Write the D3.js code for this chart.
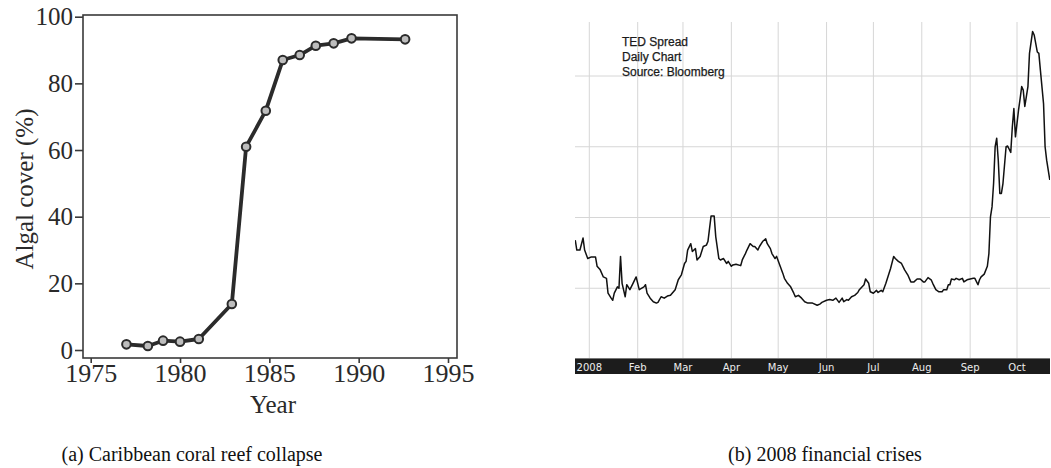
<!DOCTYPE html>
<html><head><meta charset="utf-8">
<script src="https://cdn.jsdelivr.net/npm/d3@7/dist/d3.min.js"></script>
<style>body{margin:0;background:#fff}svg{display:block}</style>
</head><body>
<svg id="c" width="1051" height="468"></svg>
<script>
// ---- (a) coral reef data ----
const reefYears = [1977.0, 1978.2, 1979.05, 1980.0, 1981.05, 1982.9, 1983.7, 1984.8, 1985.75, 1986.7, 1987.6, 1988.6, 1989.6, 1992.6];
const reefCover = [1.7, 1.2, 2.8, 2.5, 3.3, 13.8, 61.0, 71.8, 87.0, 88.5, 91.3, 92.0, 93.5, 93.2];
const reefXTicks = [1975, 1980, 1985, 1990, 1995];
const reefYTicks = [0, 20, 40, 60, 80, 100];

// ---- (b) TED spread data ----
const tedDates = [
"2007-12-23","2007-12-24","2007-12-26","2007-12-28","2007-12-29","2007-12-31",
"2008-01-02","2008-01-05","2008-01-06","2008-01-08","2008-01-10","2008-01-12","2008-01-13","2008-01-15","2008-01-16","2008-01-17","2008-01-19","2008-01-20","2008-01-21","2008-01-22","2008-01-24","2008-01-25","2008-01-27","2008-01-29","2008-01-31",
"2008-02-02","2008-02-05","2008-02-06","2008-02-07","2008-02-09","2008-02-11","2008-02-13","2008-02-14","2008-02-16","2008-02-18","2008-02-20","2008-02-22","2008-02-25","2008-02-27","2008-02-29",
"2008-03-02","2008-03-03","2008-03-04","2008-03-06","2008-03-07","2008-03-09","2008-03-10","2008-03-12","2008-03-14","2008-03-16","2008-03-17","2008-03-19","2008-03-21","2008-03-22","2008-03-24","2008-03-25","2008-03-27","2008-03-29","2008-03-30",
"2008-04-01","2008-04-02","2008-04-04","2008-04-07","2008-04-08","2008-04-10","2008-04-11","2008-04-13","2008-04-15","2008-04-16","2008-04-18","2008-04-19","2008-04-21","2008-04-23","2008-04-24","2008-04-26","2008-04-27","2008-04-29","2008-04-30",
"2008-05-02","2008-05-04","2008-05-05","2008-05-07","2008-05-09","2008-05-11","2008-05-12","2008-05-14","2008-05-16","2008-05-18","2008-05-20","2008-05-23","2008-05-26","2008-05-28","2008-05-29",
"2008-06-01","2008-06-03","2008-06-05","2008-06-07","2008-06-09","2008-06-11","2008-06-12","2008-06-14","2008-06-15","2008-06-17","2008-06-19","2008-06-21","2008-06-22","2008-06-25","2008-06-26","2008-06-28","2008-06-29",
"2008-07-01","2008-07-03","2008-07-04","2008-07-06","2008-07-07","2008-07-09","2008-07-12","2008-07-14","2008-07-15","2008-07-17","2008-07-19","2008-07-21","2008-07-23","2008-07-25","2008-07-27","2008-07-29","2008-07-31",
"2008-08-02","2008-08-03","2008-08-05","2008-08-07","2008-08-08","2008-08-10","2008-08-12","2008-08-14","2008-08-15","2008-08-17","2008-08-18","2008-08-19","2008-08-20","2008-08-22","2008-08-23","2008-08-25","2008-08-27","2008-08-28","2008-08-30",
"2008-09-01","2008-09-03","2008-09-04","2008-09-06","2008-09-07","2008-09-08","2008-09-10","2008-09-12","2008-09-13","2008-09-14","2008-09-15","2008-09-16","2008-09-17","2008-09-18","2008-09-19","2008-09-20","2008-09-21","2008-09-22","2008-09-24","2008-09-25","2008-09-27","2008-09-28","2008-09-29","2008-09-30",
"2008-10-01","2008-10-02","2008-10-03","2008-10-04","2008-10-05","2008-10-06","2008-10-08","2008-10-09","2008-10-11","2008-10-12","2008-10-14","2008-10-15","2008-10-16","2008-10-18","2008-10-19","2008-10-20","2008-10-22"];
const tedValues = [
1.68,1.54,1.54,1.71,1.54,1.42,
1.44,1.44,1.31,1.26,1.16,1.14,0.93,0.86,0.83,0.93,1.02,1.00,1.45,1.07,0.88,1.05,0.98,1.07,1.16,
0.98,1.02,1.05,0.93,0.86,0.81,0.79,0.80,0.88,0.86,0.89,0.90,0.98,1.12,1.19,
1.35,1.38,1.54,1.63,1.52,1.56,1.40,1.45,1.59,1.61,1.66,2.02,2.02,1.73,1.42,1.40,1.42,1.35,1.38,
1.31,1.33,1.34,1.32,1.40,1.49,1.54,1.63,1.59,1.59,1.54,1.59,1.66,1.70,1.63,1.56,1.49,1.42,1.45,
1.33,1.21,1.14,1.07,1.02,0.93,0.88,0.90,0.86,0.81,0.79,0.79,0.76,0.78,0.80,
0.83,0.84,0.83,0.86,0.80,0.86,0.81,0.84,0.83,0.88,0.90,0.94,0.98,1.05,1.13,1.07,0.95,
0.93,0.97,0.94,0.97,0.95,1.07,1.28,1.45,1.42,1.38,1.35,1.26,1.19,1.09,1.09,1.13,1.13,
1.09,1.09,1.15,1.12,1.07,0.98,0.95,0.95,0.98,0.98,1.05,1.05,1.13,1.12,1.14,1.12,1.14,1.09,1.12,
1.13,1.14,1.14,1.05,1.12,1.16,1.20,1.31,1.49,2.01,2.15,2.48,3.00,3.12,2.81,2.34,2.34,2.48,3.00,3.01,2.92,3.28,3.54,3.14,
3.33,3.52,3.68,3.85,3.80,3.57,3.85,4.32,4.63,4.58,4.34,4.32,4.08,3.61,3.00,2.81,2.53];
const tedYTicks = [1, 2, 3, 4];
const tedMonthLabels = ["2008","Feb","Mar","Apr","May","Jun","Jul","Aug","Sep","Oct"];
const tedTitle = ["TED Spread","Daily Chart","Source: Bloomberg"];
const captions = ["(a) Caribbean coral reef collapse","(b) 2008 financial crises"];

const svg = d3.select("#c");
const serif = "'Liberation Serif','Times New Roman',serif";

// ================= (a) =================
const ax = d3.scaleLinear().domain([1975, 1995]).range([90.7, 448]);
const ay = d3.scaleLinear().domain([0, 100]).range([350, 16.7]);
const gA = svg.append("g");
const frame = {x0: 83, x1: 457, y0: 15, y1: 358};

gA.append("rect").attr("x", frame.x0).attr("y", frame.y0)
  .attr("width", frame.x1 - frame.x0).attr("height", frame.y1 - frame.y0)
  .attr("fill", "none").attr("stroke", "#3a3a3a").attr("stroke-width", 1.6);

const yAx = gA.append("g").attr("transform", `translate(${frame.x0},0)`)
  .call(d3.axisLeft(ay).tickValues(reefYTicks).tickSize(8).tickPadding(2).tickFormat(d3.format("d")));
const xAx = gA.append("g").attr("transform", `translate(0,${frame.y1})`)
  .call(d3.axisBottom(ax).tickValues(reefXTicks).tickSize(5).tickPadding(1).tickFormat(d3.format("d")));
[yAx, xAx].forEach(g => {
  g.select(".domain").remove();
  g.selectAll(".tick line").attr("stroke", "#3a3a3a").attr("stroke-width", 1.6);
  g.selectAll("text").attr("font-family", serif).attr("font-size", 25).attr("fill", "#2a2a2a");
});
xAx.selectAll("text").attr("font-size", 26);

const reefData = reefYears.map((y, i) => ({x: y, v: reefCover[i]}));
gA.append("path").datum(reefData)
  .attr("d", d3.line().x(d => ax(d.x)).y(d => ay(d.v)))
  .attr("fill", "none").attr("stroke", "#2b2b2b").attr("stroke-width", 3.8).attr("stroke-linejoin", "round");
gA.selectAll("circle").data(reefData).join("circle")
  .attr("cx", d => ax(d.x)).attr("cy", d => ay(d.v)).attr("r", 4.3)
  .attr("fill", "#bdbdbd").attr("stroke", "#2b2b2b").attr("stroke-width", 2);

gA.append("text").attr("x", 273).attr("y", 413).attr("text-anchor", "middle")
  .attr("font-family", serif).attr("font-size", 25).attr("fill", "#2a2a2a").text("Year");
gA.append("text").attr("transform", "translate(33,189) rotate(-90)").attr("text-anchor", "middle")
  .attr("font-family", serif).attr("font-size", 25).attr("fill", "#2a2a2a").text("Algal cover (%)");

// ================= (b) =================
const parse = d3.timeParse("%Y-%m-%d");
const bx = d3.scaleTime().domain([new Date(2008, 0, 1), new Date(2008, 9, 1)]).range([589.3, 1017]);
const by = d3.scaleLinear().domain([0, 4]).range([359, 76]);
const plot = {x0: 575, x1: 1050, y0: 22, y1: 358};
const gB = svg.append("g");

svg.append("defs").append("clipPath").attr("id", "clipB").append("rect")
  .attr("x", plot.x0).attr("y", plot.y0).attr("width", plot.x1 - plot.x0).attr("height", plot.y1 - plot.y0);

const months = d3.timeMonth.range(new Date(2008, 0, 1), new Date(2008, 10, 1))
  .filter(d => bx(d) >= plot.x0 && bx(d) <= plot.x1);

gB.append("g").selectAll("line").data(months).join("line")
  .attr("x1", d => bx(d)).attr("x2", d => bx(d)).attr("y1", plot.y0).attr("y2", plot.y1)
  .attr("stroke", "#d6d6d6").attr("stroke-width", 1);
gB.append("g").selectAll("line").data(tedYTicks).join("line")
  .attr("x1", plot.x0).attr("x2", plot.x1).attr("y1", d => by(d)).attr("y2", d => by(d))
  .attr("stroke", "#d6d6d6").attr("stroke-width", 1);

const tedData = tedDates.map((d, i) => ({d: parse(d), v: tedValues[i]}));
gB.append("path").datum(tedData).attr("clip-path", "url(#clipB)")
  .attr("d", d3.line().x(d => bx(d.d)).y(d => by(d.v)))
  .attr("fill", "none").attr("stroke", "#111").attr("stroke-width", 1.5).attr("stroke-linejoin", "round");

gB.append("g").selectAll("text").data(tedTitle).join("text")
  .attr("x", 622).attr("y", (d, i) => 46 + i * 15)
  .attr("font-family", "'Liberation Sans',Arial,sans-serif").attr("font-size", 12).attr("fill", "#1a1a1a")
  .attr("stroke", "#1a1a1a").attr("stroke-width", 0.25)
  .text(d => d);

// dark month bar
gB.append("rect").attr("x", plot.x0).attr("y", 358).attr("width", plot.x1 - plot.x0).attr("height", 16)
  .attr("fill", "#1c1c1c");
gB.append("line").attr("x1", plot.x0).attr("x2", plot.x1).attr("y1", 358.5).attr("y2", 358.5)
  .attr("stroke", "#777").attr("stroke-width", 1);
gB.append("g").selectAll("text").data(months).join("text")
  .attr("x", d => bx(d)).attr("y", 371).attr("text-anchor", "middle")
  .attr("font-family", "'DejaVu Sans',Verdana,sans-serif").attr("font-size", 10).attr("fill", "#ededed")
  .text((d, i) => tedMonthLabels[i]);

// ================= captions =================
svg.append("g").selectAll("text").data(captions).join("text")
  .attr("x", (d, i) => i === 0 ? 192 : 825).attr("y", 461).attr("text-anchor", "middle")
  .attr("font-family", serif).attr("font-size", 20).attr("fill", "#111")
  .text(d => d);
</script>
</body></html>
